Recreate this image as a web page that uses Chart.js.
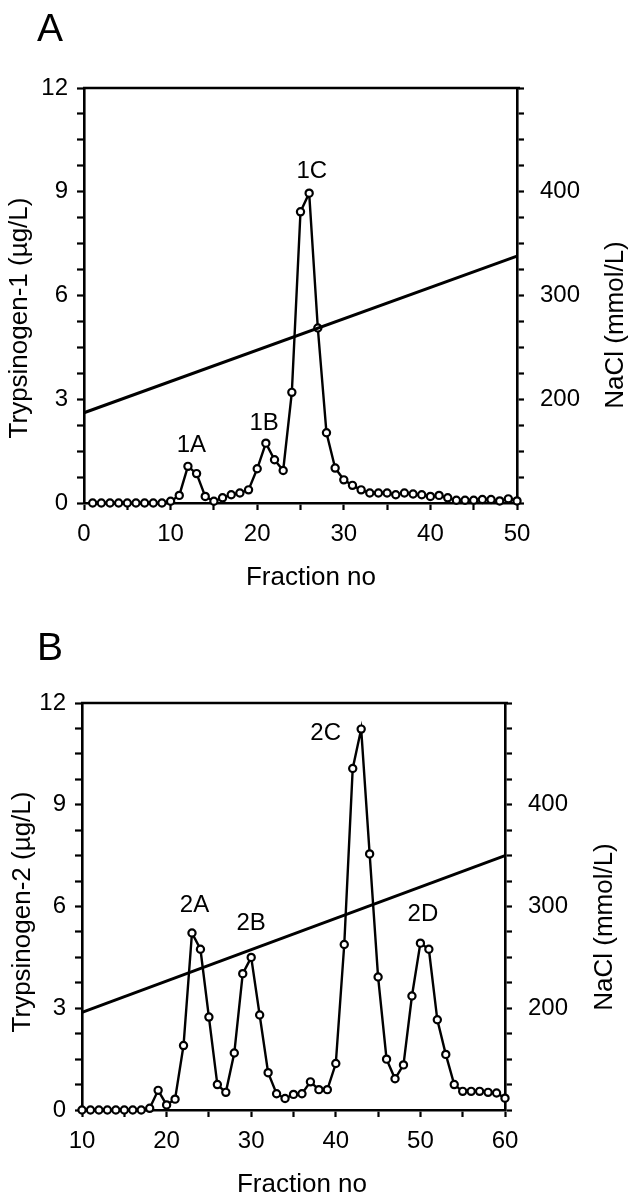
<!DOCTYPE html>
<html>
<head>
<meta charset="utf-8">
<script src="https://cdn.jsdelivr.net/npm/chart.js@4.4.0/dist/chart.umd.min.js"></script>
<style>
  html, body { margin: 0; padding: 0; background: #fff; }
  body { width: 633px; height: 1199px; position: relative; overflow: hidden; }
  canvas { position: absolute; left: 0; }
  #chartA { top: 0; }
  #chartB { top: 600px; }
</style>
</head>
<body>
<canvas id="chartA" width="633" height="600"></canvas>
<canvas id="chartB" width="633" height="599"></canvas>
<script>
// Panel A: trypsinogen-1 vs fraction
const fractionsA = [1, 2, 3, 4, 5, 6, 7, 8, 9, 10, 11, 12, 13, 14, 15, 16, 17, 18, 19, 20,
  21, 22, 23, 24, 25, 26, 27, 28, 29, 30, 31, 32, 33, 34, 35, 36, 37, 38, 39, 40,
  41, 42, 43, 44, 45, 46, 47, 48, 49, 50];
const trypsinogen1 = [0, 0, 0, 0, 0, 0, 0, 0, 0, 0.05, 0.22, 1.06, 0.85, 0.19, 0.05, 0.15, 0.24, 0.29, 0.38, 0.99,
  1.73, 1.25, 0.94, 3.2, 8.42, 8.96, 5.06, 2.03, 1.01, 0.67, 0.51, 0.38, 0.29, 0.29, 0.29, 0.24, 0.29, 0.26, 0.24, 0.19,
  0.22, 0.15, 0.08, 0.08, 0.08, 0.1, 0.1, 0.06, 0.12, 0.06];
const naclFractionsA = [0, 50];
const naclA = [187, 338];
const peakNamesA = ['1A', '1B', '1C'];
const peakLabelXA = [12.4, 20.8, 26.3];
const peakLabelYA = [1.47, 2.1, 9.4];
const xTickLabelsA = [0, 10, 20, 30, 40, 50];

// Panel B: trypsinogen-2 vs fraction
const fractionsB = [10, 11, 12, 13, 14, 15, 16, 17, 18, 19, 20, 21, 22, 23, 24, 25, 26, 27, 28, 29,
  30, 31, 32, 33, 34, 35, 36, 37, 38, 39, 40, 41, 42, 43, 44, 45, 46, 47, 48, 49,
  50, 51, 52, 53, 54, 55, 56, 57, 58, 59, 60];
const trypsinogen2 = [0, 0, 0, 0, 0, 0, 0, 0, 0.05, 0.58, 0.15, 0.32, 1.9, 5.22, 4.74, 2.74, 0.75, 0.52, 1.68, 4.02,
  4.5, 2.8, 1.1, 0.48, 0.34, 0.46, 0.48, 0.83, 0.6, 0.6, 1.37, 4.88, 10.07, 11.23, 7.55, 3.92, 1.5, 0.92, 1.33, 3.36,
  4.92, 4.74, 2.66, 1.64, 0.75, 0.55, 0.55, 0.55, 0.52, 0.5, 0.35];
const naclFractionsB = [10, 60];
const naclB = [196, 350];
const peakNamesB = ['2A', '2B', '2C', '2D'];
const peakLabelXB = [23.3, 30.0, 38.8, 50.3];
const peakLabelYB = [5.84, 5.31, 10.9, 5.58];
const xTickLabelsB = [10, 20, 30, 40, 50, 60];

// shared axis ticks
const yTickLabels = [0, 3, 6, 9, 12];
const naclTickLabels = [200, 300, 400];

const FONT = '"Liberation Sans", Arial, Helvetica, sans-serif';

// draws top frame, panel letter, peak names and axis titles
const panelText = {
  id: 'panelText',
  afterDraw(chart, args, o) {
    const { ctx, chartArea: a, scales } = chart;
    ctx.save();
    ctx.strokeStyle = '#000';
    ctx.lineWidth = 2.5;
    ctx.beginPath();
    ctx.moveTo(a.left - 1, a.top);
    ctx.lineTo(a.right + 3, a.top);
    ctx.stroke();

    ctx.fillStyle = '#000';
    ctx.textBaseline = 'alphabetic';
    ctx.textAlign = 'left';
    ctx.font = '39px ' + FONT;
    ctx.fillText(o.letter, o.letterX, o.letterY);

    ctx.font = '24px ' + FONT;
    ctx.textAlign = 'center';
    o.peakNames.forEach((name, i) => {
      ctx.fillText(name, scales.x.getPixelForValue(o.peakX[i]), scales.y.getPixelForValue(o.peakY[i]));
    });

    ctx.font = '26px ' + FONT;
    ctx.fillText('Fraction no', o.xTitle[0], o.xTitle[1]);
    [[o.yTitle, o.leftTitle], [o.y2Title, o.rightTitle]].forEach(([text, pos]) => {
      ctx.save();
      ctx.translate(pos[0], pos[1]);
      ctx.rotate(-Math.PI / 2);
      ctx.fillText(text, 0, 0);
      ctx.restore();
    });
    ctx.restore();
  }
};

function buildChart(id, d) {
  const canvas = document.getElementById(id);
  const W = canvas.width, H = canvas.height;
  const tickFont = { family: FONT, size: 24 };
  const grid = { drawOnChartArea: false, drawTicks: true, tickLength: 7, tickWidth: 2.2, tickColor: '#000' };
  const border = { display: true, color: '#000', width: 2.6 };

  return new Chart(canvas.getContext('2d'), {
    type: 'line',
    data: {
      datasets: [
        {
          label: 'NaCl',
          data: d.naclX.map((x, i) => ({ x: x, y: d.nacl[i] })),
          yAxisID: 'y2',
          borderColor: '#000',
          borderWidth: 3,
          pointRadius: 0,
          order: 0,
          clip: false
        },
        {
          label: d.yTitle,
          data: d.fractions.map((x, i) => ({ x: x, y: d.values[i] })),
          yAxisID: 'y',
          borderColor: '#000',
          borderWidth: 2.4,
          tension: 0,
          pointRadius: 3.6,
          pointBorderWidth: 2.2,
          pointBackgroundColor: '#fff',
          pointBorderColor: '#000',
          order: 1,
          clip: false
        }
      ]
    },
    options: {
      responsive: false,
      animation: false,
      devicePixelRatio: 1,
      layout: { padding: { top: d.area.top, left: 0, right: 0, bottom: 0 } },
      plugins: {
        legend: { display: false },
        tooltip: { enabled: false },
        panelText: d.text
      },
      scales: {
        x: {
          type: 'linear',
          position: 'bottom',
          min: d.xMin,
          max: d.xMax,
          grid: grid,
          border: border,
          ticks: {
            stepSize: 5,
            autoSkip: false,
            maxRotation: 0,
            color: '#000',
            font: tickFont,
            padding: 10,
            callback: v => d.xTicks.includes(v) ? String(v) : ''
          },
          afterFit: s => { s.height = H - d.area.bottom; }
        },
        y: {
          type: 'linear',
          position: 'left',
          min: 0,
          max: 12,
          grid: grid,
          border: border,
          ticks: {
            stepSize: 0.75,
            autoSkip: false,
            color: '#000',
            font: tickFont,
            padding: 9,
            callback: v => yTickLabels.includes(v) ? String(v) : ''
          },
          afterFit: s => { s.width = d.area.left; }
        },
        y2: {
          type: 'linear',
          position: 'right',
          min: 100,
          max: 500,
          grid: grid,
          border: border,
          ticks: {
            stepSize: 25,
            autoSkip: false,
            color: '#000',
            font: tickFont,
            padding: 16,
            callback: v => naclTickLabels.includes(v) ? String(v) : ''
          },
          afterFit: s => { s.width = W - d.area.right; }
        }
      }
    },
    plugins: [panelText]
  });
}

buildChart('chartA', {
  fractions: fractionsA, values: trypsinogen1,
  naclX: naclFractionsA, nacl: naclA,
  xMin: 0, xMax: 50, xTicks: xTickLabelsA,
  yTitle: 'Trypsinogen-1 (µg/L)',
  area: { left: 84, top: 88, right: 517, bottom: 503 },
  text: {
    letter: 'A', letterX: 37, letterY: 41,
    peakNames: peakNamesA, peakX: peakLabelXA, peakY: peakLabelYA,
    xTitle: [311, 585],
    yTitle: 'Trypsinogen-1 (µg/L)', leftTitle: [27, 318],
    y2Title: 'NaCl (mmol/L)', rightTitle: [623, 325]
  }
});

buildChart('chartB', {
  fractions: fractionsB, values: trypsinogen2,
  naclX: naclFractionsB, nacl: naclB,
  xMin: 10, xMax: 60, xTicks: xTickLabelsB,
  yTitle: 'Trypsinogen-2 (µg/L)',
  area: { left: 82, top: 103, right: 505, bottom: 510 },
  text: {
    letter: 'B', letterX: 37, letterY: 60,
    peakNames: peakNamesB, peakX: peakLabelXB, peakY: peakLabelYB,
    xTitle: [302, 592],
    yTitle: 'Trypsinogen-2 (µg/L)', leftTitle: [30, 312],
    y2Title: 'NaCl (mmol/L)', rightTitle: [612, 327]
  }
});
</script>
</body>
</html>
